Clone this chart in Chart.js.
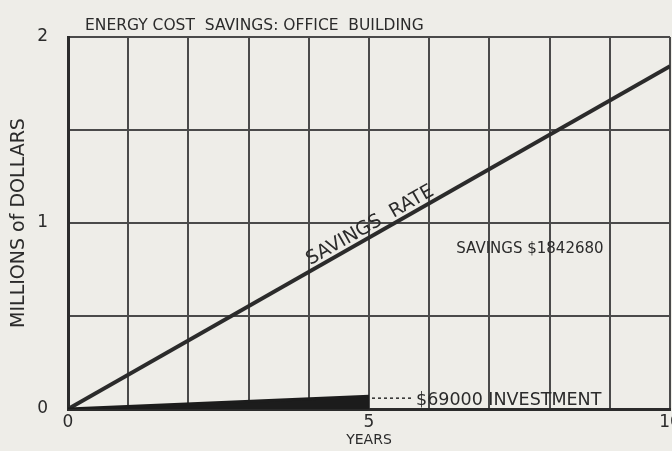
<!DOCTYPE html>
<html>
<head>
<meta charset="utf-8">
<script src="https://cdn.jsdelivr.net/npm/chart.js@4"></script>
<style>
	html, body { margin: 0; padding: 0; background: #eeede8; }
	#wrap { width: 672px; height: 451px; }
</style>
</head>
<body>
<div id="wrap"><canvas id="savings_chart"></canvas></div>
<script>
// values (millions of dollars)
var years = [0, 10];
var savings = [0, 1.84268];
var invest_years = [0, 5];
var investment = [0, 0.069];

var chart_title = 'ENERGY COST  SAVINGS: OFFICE  BUILDING';
var x_ticks = [0, 5, 10];
var y_ticks = [0, 1, 2];

var ink = '#2b2b2b';
var hand_font = "'DejaVu Sans', sans-serif";

function to_points(xs, ys) {
	var pts = [];
	for (var i = 0; i < xs.length; i++) {
		pts.push({x: xs[i], y: ys[i]});
	}
	return pts;
}

// title and the notes written on the chart
var notes_plugin = {
	id: 'notes',
	afterDatasetsDraw: function(chart) {
		var ctx = chart.ctx;
		var xs = chart.scales.x;
		var ys = chart.scales.y;
		ctx.save();
		ctx.fillStyle = ink;
		ctx.textBaseline = 'alphabetic';

		ctx.font = '15.5px ' + hand_font;
		ctx.textAlign = 'left';
		ctx.fillText(chart_title, 85, 30);

		// rate label along the line
		var x0 = xs.getPixelForValue(years[0]), y0 = ys.getPixelForValue(savings[0]);
		var x1 = xs.getPixelForValue(years[1]), y1 = ys.getPixelForValue(savings[1]);
		var ang = Math.atan2(y1 - y0, x1 - x0);
		var mx = xs.getPixelForValue(5.1);
		var my = y0 + (mx - x0) * Math.tan(ang);
		ctx.translate(mx, my);
		ctx.rotate(ang);
		ctx.font = '19px ' + hand_font;
		ctx.textAlign = 'center';
		ctx.fillText('SAVINGS  RATE', 0, -5);
		ctx.setTransform(1, 0, 0, 1, 0, 0);

		ctx.font = '15px ' + hand_font;
		ctx.textAlign = 'left';
		ctx.fillText('SAVINGS $1842680', xs.getPixelForValue(6.45), ys.getPixelForValue(0.84));

		// leader from the end of the investment wedge
		var lx = xs.getPixelForValue(invest_years[1]) + 3;
		var ly = ys.getPixelForValue(investment[1]) + 2;
		ctx.strokeStyle = ink;
		ctx.lineWidth = 1.5;
		ctx.setLineDash([3, 3]);
		ctx.beginPath();
		ctx.moveTo(lx, ly);
		ctx.lineTo(lx + 42, ly);
		ctx.stroke();
		ctx.setLineDash([]);
		ctx.font = '17.5px ' + hand_font;
		ctx.fillText('$69000 INVESTMENT', lx + 44, ly + 7);
		ctx.restore();
	}
};

var ctx = document.getElementById('savings_chart');
var myChart = new Chart(ctx, {
	type: 'scatter',
	data: {
		datasets: [{
			label: 'Investment',
			data: to_points(invest_years, investment),
			showLine: true,
			fill: 'origin',
			backgroundColor: '#1c1c1c',
			borderColor: '#1c1c1c',
			borderWidth: 3,
			pointRadius: 0,
		}, {
			label: 'Savings rate',
			data: to_points(years, savings),
			showLine: true,
			fill: false,
			borderColor: ink,
			borderWidth: 4,
			pointRadius: 0,
		}]
	},
	options: {
		responsive: true,
		maintainAspectRatio: false,
		animation: false,
		layout: {
			padding: {top: 37, right: 2, left: 0, bottom: 0}
		},
		plugins: {
			legend: { display: false },
			tooltip: { enabled: false }
		},
		scales: {
			x: {
				type: 'linear',
				min: 0,
				max: 10,
				afterBuildTicks: function(axis) {
					var t = [];
					for (var i = 0; i <= 10; i++) t.push({value: i});
					axis.ticks = t;
				},
				afterFit: function(axis) {
					axis.height = 42;
					// let the "10" run off the edge like the drawing
					axis.paddingLeft = 0;
					axis.paddingRight = 0;
				},
				grid: {
					color: '#4a4a4a',
					lineWidth: 2,
					drawTicks: false
				},
				border: { color: ink, width: 3 },
				ticks: {
					color: ink,
					padding: 3,
					maxRotation: 0,
					autoSkip: false,
					font: { family: hand_font, size: 17 },
					callback: function(v) { return x_ticks.indexOf(v) >= 0 ? v : ''; }
				},
				title: {
					display: true,
					text: 'YEARS',
					color: ink,
					padding: { top: 0, bottom: 2 },
					font: { family: hand_font, size: 14 }
				}
			},
			y: {
				type: 'linear',
				min: 0,
				max: 2,
				afterBuildTicks: function(axis) {
					axis.ticks = [0, 0.5, 1, 1.5, 2].map(function(v) { return {value: v}; });
				},
				afterFit: function(axis) { axis.width = 68; },
				grid: {
					color: '#4a4a4a',
					lineWidth: 2,
					drawTicks: false
				},
				border: { color: ink, width: 3 },
				ticks: {
					color: ink,
					padding: 20,
					autoSkip: false,
					font: { family: hand_font, size: 17 },
					callback: function(v) { return y_ticks.indexOf(v) >= 0 ? v : ''; }
				},
				title: {
					display: true,
					text: 'MILLIONS of DOLLARS',
					color: ink,
					padding: { top: 8, bottom: 4 },
					font: { family: hand_font, size: 19 }
				}
			}
		}
	},
	plugins: [notes_plugin]
});
</script>
</body>
</html>
